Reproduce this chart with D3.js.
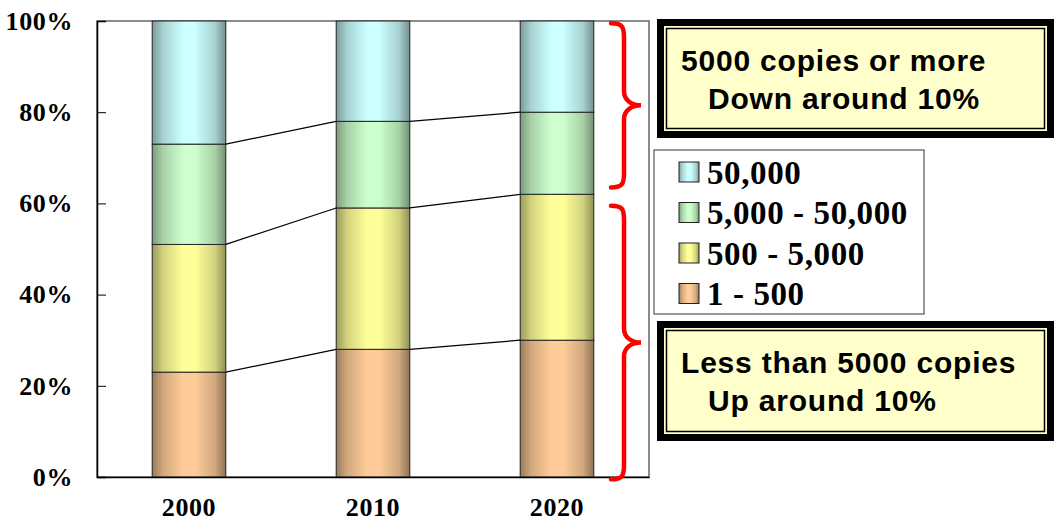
<!DOCTYPE html>
<html>
<head>
<meta charset="utf-8">
<script src="https://cdn.jsdelivr.net/npm/d3@7"></script>
<style>
  body { margin: 0; background: #fff; }
  svg { display: block; }
</style>
</head>
<body>
<svg id="chart" width="1056" height="526"></svg>
<script>
// data, bottom segment first
const years = ['2000', '2010', '2020']
const seriesNames = ['1 - 500', '500 - 5,000', '5,000 - 50,000', '50,000']
const share1to500 = [23, 28, 30]
const share500to5000 = [28, 31, 32]
const share5000to50000 = [22, 19, 18]
const share50000 = [27, 22, 20]
const yTicks = [0, 20, 40, 60, 80, 100]
const seriesColors = ['#ffcc99', '#ffff99', '#ccffcc', '#ccffff']
const topNote = ['5000 copies or more', 'Down around 10%']
const bottomNote = ['Less than 5000 copies', 'Up around 10%']
// brace spans in percent
const upperSpan = [63.5, 99.5]
const lowerSpan = [-0.5, 59.5]

const svg = d3.select('#chart')

const x = d3.scaleBand().domain(years).range([97, 649])
  .paddingInner(0.6).paddingOuter(0.3)
const y = d3.scaleLinear().domain([0, 100]).range([477, 21])

// build table for stack
const table = years.map((yr, i) => ({
  year: yr,
  [seriesNames[0]]: share1to500[i],
  [seriesNames[1]]: share500to5000[i],
  [seriesNames[2]]: share5000to50000[i],
  [seriesNames[3]]: share50000[i]
}))
const stacked = d3.stack().keys(seriesNames)(table)

// shaded gradients like the old office cylinders-ish bars
const defs = svg.append('defs')
seriesColors.forEach((c, i) => {
  const dark = d3.color(c).darker(1.4)
  const mid = d3.interpolateRgb(dark, c)(0.55)
  const g = defs.append('linearGradient').attr('id', 'g' + i)
    .attr('x1', '0%').attr('x2', '100%').attr('y1', '0%').attr('y2', '0%')
  g.append('stop').attr('offset', '0%').attr('stop-color', dark)
  g.append('stop').attr('offset', '15%').attr('stop-color', mid)
  g.append('stop').attr('offset', '42%').attr('stop-color', c)
  g.append('stop').attr('offset', '58%').attr('stop-color', c)
  g.append('stop').attr('offset', '85%').attr('stop-color', mid)
  g.append('stop').attr('offset', '100%').attr('stop-color', d3.color(c).darker(1.6))
})

// plot frame
svg.append('rect')
  .attr('x', 97).attr('y', 21).attr('width', 552).attr('height', 456)
  .attr('fill', 'none').attr('stroke', '#666').attr('stroke-width', 1.5)

// bars
svg.append('g').selectAll('g').data(stacked).join('g')
  .attr('fill', (d, i) => 'url(#g' + i + ')')
  .selectAll('rect').data(d => d).join('rect')
  .attr('x', d => x(d.data.year))
  .attr('width', x.bandwidth())
  .attr('y', d => y(d[1]))
  .attr('height', d => y(d[0]) - y(d[1]))
  .attr('stroke', '#222').attr('stroke-width', 1)

// series lines between bars
stacked.slice(0, 3).forEach(s => {
  for (let i = 0; i < s.length - 1; i++) {
    svg.append('line')
      .attr('x1', x(years[i]) + x.bandwidth()).attr('y1', y(s[i][1]))
      .attr('x2', x(years[i + 1])).attr('y2', y(s[i + 1][1]))
      .attr('stroke', '#000').attr('stroke-width', 1.2)
  }
})

const serif = '"Liberation Serif", "Times New Roman", serif'

// axes
const yAxis = svg.append('g').attr('transform', 'translate(97,0)')
  .call(d3.axisLeft(y).tickValues(yTicks).tickSize(-9).tickPadding(24)
    .tickFormat(d => d + '%'))
yAxis.select('.domain').attr('stroke', '#000').attr('stroke-width', 1.5)
yAxis.selectAll('.tick line').attr('stroke', '#000')
yAxis.selectAll('text')
  .attr('font-family', serif).attr('letter-spacing', 0.6)
  .attr('font-weight', 'bold').attr('font-size', 26).attr('fill', '#000')

const xAxis = svg.append('g').attr('transform', 'translate(0,477)')
  .call(d3.axisBottom(x).tickSize(0).tickPadding(21))
xAxis.select('.domain').attr('stroke', '#000').attr('stroke-width', 1.5)
xAxis.selectAll('text')
  .attr('font-family', serif).attr('letter-spacing', 0.6)
  .attr('font-weight', 'bold').attr('font-size', 26).attr('fill', '#000')

// red braces
function brace(span) {
  const x0 = 611, xv = 624, xt = 641
  const yt = y(span[1]), yb = y(span[0]), ym = (yt + yb) / 2
  return `M${x0},${yt} C${x0 + 11},${yt} ${xv},${yt + 3} ${xv},${yt + 14}` +
    ` L${xv},${ym - 14} C${xv},${ym - 4} ${xt - 8},${ym} ${xt},${ym}` +
    ` C${xt - 8},${ym} ${xv},${ym + 4} ${xv},${ym + 14}` +
    ` L${xv},${yb - 14} C${xv},${yb - 3} ${x0 + 11},${yb} ${x0},${yb}`
}
svg.selectAll('path.brace').data([upperSpan, lowerSpan]).join('path')
  .attr('class', 'brace')
  .attr('d', brace)
  .attr('fill', 'none').attr('stroke', '#ff0000').attr('stroke-width', 4.5)
  .attr('stroke-linecap', 'round')

// legend
const legend = svg.append('g')
legend.append('rect')
  .attr('x', 654).attr('y', 150).attr('width', 270).attr('height', 164)
  .attr('fill', '#fff').attr('stroke', '#333').attr('stroke-width', 1)
const legendOrder = d3.range(seriesNames.length).reverse()
legendOrder.forEach((si, row) => {
  const cy = 172 + row * 40.5
  legend.append('rect')
    .attr('x', 679).attr('y', cy - 10).attr('width', 20).attr('height', 20)
    .attr('fill', 'url(#g' + si + ')').attr('stroke', '#222')
  legend.append('text')
    .attr('x', 707).attr('y', cy).attr('dy', '0.35em')
    .attr('font-family', serif).attr('letter-spacing', 0.6)
    .attr('font-weight', 'bold').attr('font-size', 33)
    .text(seriesNames[si])
})

// callout boxes
function callout(top, h, lines, baselines) {
  const g = svg.append('g')
  g.append('rect').attr('x', 657).attr('y', top).attr('width', 397).attr('height', h)
    .attr('fill', '#000')
  g.append('rect').attr('x', 664).attr('y', top + 7).attr('width', 383).attr('height', h - 14)
    .attr('fill', '#ffffcc')
  g.append('rect').attr('x', 666.5).attr('y', top + 9.5).attr('width', 378).attr('height', h - 19)
    .attr('fill', 'none').attr('stroke', '#000').attr('stroke-width', 1.5)
  g.selectAll('text').data(lines).join('text')
    .attr('x', (d, i) => i === 0 ? 681 : 708)
    .attr('y', (d, i) => baselines[i])
    .attr('font-family', '"Liberation Sans", Arial, sans-serif')
    .attr('font-weight', 'bold').attr('font-size', 30).attr('letter-spacing', 0.8)
    .text(d => d)
}
callout(19, 119, topNote, [71, 109])
callout(321, 120, bottomNote, [373, 411])
</script>
</body>
</html>
